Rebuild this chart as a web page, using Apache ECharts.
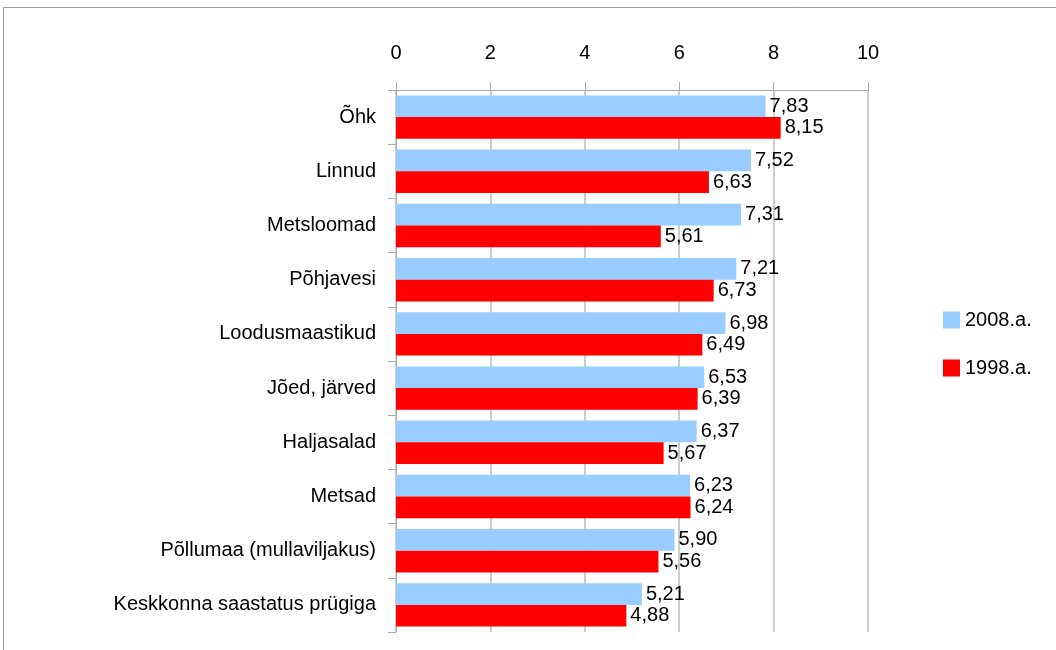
<!DOCTYPE html>
<html><head><meta charset="utf-8">
<script src="https://cdn.jsdelivr.net/npm/echarts@6/dist/echarts.min.js"></script>
<style>html,body{margin:0;padding:0;background:#fff}#c{width:1056px;height:650px}</style>
</head><body><div id="c"></div>
<script>
const categories = ['Õhk','Linnud','Metsloomad','Põhjavesi','Loodusmaastikud','Jõed, järved','Haljasalad','Metsad','Põllumaa (mullaviljakus)','Keskkonna saastatus prügiga'];
const values2008 = [7.83,7.52,7.31,7.21,6.98,6.53,6.37,6.23,5.90,5.21];
const values1998 = [8.15,6.63,5.61,6.73,6.49,6.39,5.67,6.24,5.56,4.88];
const xTicks = [0,2,4,6,8,10];
const seriesNames = ['2008.a.','1998.a.'];

const font = 'Liberation Sans';
const fs = 20;
const chart = echarts.init(document.getElementById('c'));
const lbl = {show:true, position:'right', distance:4, color:'#000', fontSize:fs, fontFamily:font,
  formatter: p => p.value.toFixed(2).replace('.', ',')};
chart.setOption({
  animation:false,
  graphic:[{type:'rect', shape:{x:3.5,y:7.5,width:1100,height:700}, style:{fill:null, stroke:'#999', lineWidth:1}}],
  grid:{left:396, right:188, top:90, bottom:18},
  legend:{orient:'vertical', left:938, top:305, icon:'rect', itemWidth:17, itemHeight:17, itemGap:28,
    textStyle:{fontSize:fs, fontFamily:font, color:'#000'}, data:seriesNames},
  xAxis:{type:'value', position:'top', min:xTicks[0], max:xTicks[xTicks.length-1], interval:2,
    axisLine:{show:true, lineStyle:{color:'#aaa'}},
    axisTick:{show:true, length:8, lineStyle:{color:'#aaa'}},
    axisLabel:{fontSize:fs, fontFamily:font, color:'#000', margin:27},
    splitLine:{show:true, lineStyle:{color:'#bbb', width:1.5}}},
  yAxis:{type:'category', inverse:true, data:categories,
    axisLine:{show:true, lineStyle:{color:'#aaa'}},
    axisTick:{show:true, length:8, lineStyle:{color:'#aaa'}},
    axisLabel:{fontSize:fs, fontFamily:font, color:'#000', margin:20}},
  series:[
    {name:seriesNames[0], type:'bar', data:values2008, itemStyle:{color:'#99CCFF'}, barGap:'0%', barCategoryGap:'20%', label:lbl},
    {name:seriesNames[1], type:'bar', data:values1998, itemStyle:{color:'#FF0000'}, barGap:'0%', barCategoryGap:'20%', label:lbl}
  ]
});
</script></body></html>
